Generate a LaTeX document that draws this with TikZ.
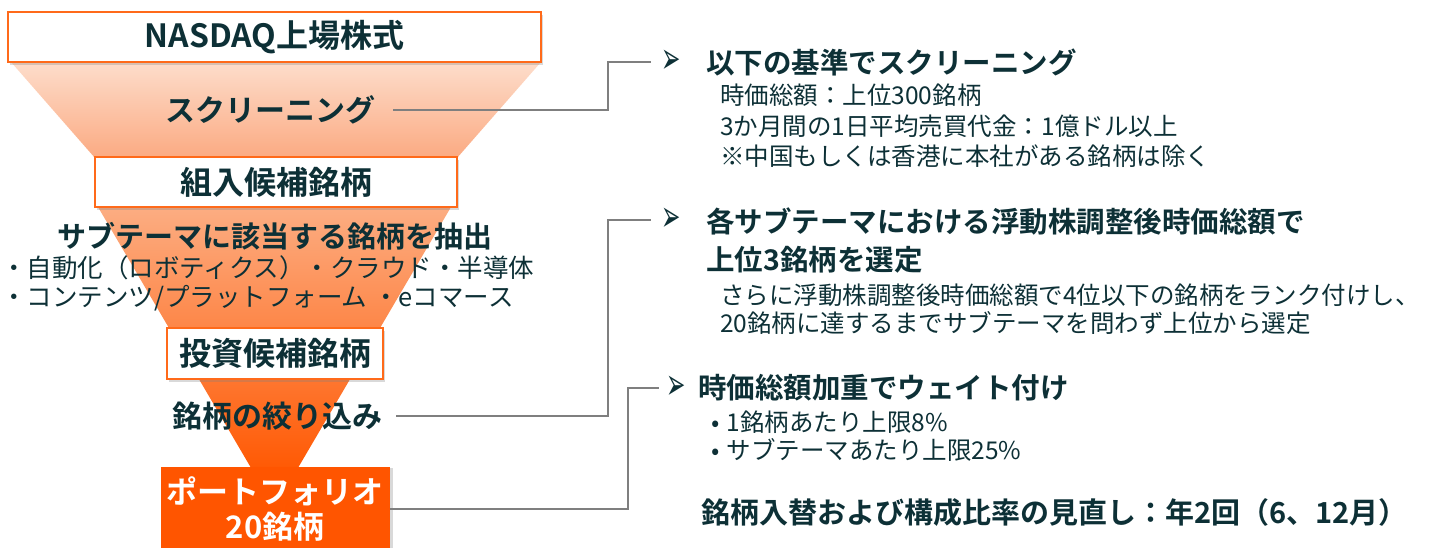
\documentclass[tikz,border=0pt]{standalone}
\usepackage{fontspec}
\setmainfont{Noto Sans CJK JP}[BoldFont=Noto Sans CJK JP Bold]
\newfontfamily\dejavu{DejaVu Sans}
\usetikzlibrary{shadows}
\definecolor{ink}{HTML}{0D3036}
\definecolor{edge}{HTML}{FF6A1A}
\definecolor{deep}{HTML}{FF5500}
\definecolor{wire}{HTML}{7F7F7F}
\definecolor{peachtop}{HTML}{FDDDCB}
\definecolor{peachbot}{HTML}{FBAA82}
\definecolor{ambertop}{HTML}{FCAD82}
\definecolor{amberbot}{HTML}{FF5A05}
\newcommand\boxfont{\fontsize{32}{36}\selectfont\bfseries}
\newcommand\stagefont{\fontsize{30}{35}\selectfont\bfseries}
\newcommand\titlefont{\fontsize{28.5}{34}\selectfont\bfseries}
\newcommand\notefont{\fontsize{24.5}{30}\selectfont}
\newcommand\pointer{\scalebox{1.05}[2]{➢}}

\begin{document}
\begin{tikzpicture}[x=1pt, y=-1pt,
		whitebox/.style={draw=edge, line width=1.5pt, fill=white, inner sep=0pt, text=ink, font=\boxfont,
			drop shadow={shadow xshift=2pt, shadow yshift=-2.5pt, opacity=0.3}},
		pfbox/.style={fill=deep, inner sep=0pt, text=white, font=\fontsize{31}{35}\selectfont\bfseries, align=center,
			drop shadow={shadow xshift=3pt, shadow yshift=-1pt, opacity=0.3}},
		stage/.style={text=ink, inner sep=0pt, font=\stagefont},
		plain/.style={anchor=west, text=ink, inner sep=0pt, font=\fontsize{25.5}{30}\selectfont},
		heading/.style={anchor=west, text=ink, inner sep=0pt, font=\titlefont},
		note/.style={anchor=west, text=ink, inner sep=0pt, font=\notefont},
		arrowhd/.style={text=ink, inner sep=0pt, font=\dejavu\fontsize{22}{24}\selectfont},
		joint/.style={draw=wire, line width=1.3pt}]
			%%%%% START %%%%%
			
			\useasboundingbox (0, 0) rectangle (1431, 547);
			
			% funnel
			\shade[top color=peachtop, bottom color=peachbot] (11, 62) -- (541, 62) -- (457, 158) -- (95, 158) -- cycle;
			\shade[top color=ambertop, bottom color=amberbot] (98, 207) -- (451, 207) -- (298.5, 467) -- (250.5, 467) -- cycle;
			
			% boxes
			\node[whitebox, minimum width=533pt, minimum height=50pt] (nasdaq) at (274.5, 37) {NASDAQ上場株式};
			\node[whitebox, minimum width=362pt, minimum height=50pt] (kumi) at (276, 182) {組入候補銘柄};
			\node[whitebox, minimum width=216pt, minimum height=51pt] (toshi) at (275, 353.5) {投資候補銘柄};
			\node[pfbox, minimum width=229pt, minimum height=84pt] (pf) at (275, 509) {ポートフォリオ\\20銘柄};
			
			% stages
			\node[stage] (scr) at (270, 110) {スクリーニング};
			\node[stage, font=\fontsize{29}{34}\selectfont\bfseries] (sub) at (274.5, 236) {サブテーマに該当する銘柄を抽出};
			\node[plain] (sub1) at (1, 268) {・自動化（ロボティクス）・クラウド・半導体};
			\node[plain] (sub2) at (1, 298) {・コンテンツ/プラットフォーム ・eコマース};
			\node[stage] (nar) at (277, 416) {銘柄の絞り込み};
			
			% right column
			\node[arrowhd] (a1) at (671, 62) {\pointer};
			\node[heading] (t1) at (706, 62) {以下の基準でスクリーニング};
			\node[note] (t1a) at (720, 95) {時価総額：上位300銘柄};
			\node[note] (t1b) at (720, 126) {3か月間の1日平均売買代金：1億ドル以上};
			\node[note] (t1c) at (720, 156) {※中国もしくは香港に本社がある銘柄は除く};
			
			\node[arrowhd] (a2) at (671, 220) {\pointer};
			\node[heading] (t2) at (706, 222) {各サブテーマにおける浮動株調整後時価総額で};
			\node[heading] (t2b) at (706, 260) {上位3銘柄を選定};
			\node[note] (t2c) at (720, 295) {さらに浮動株調整後時価総額で4位以下の銘柄をランク付けし、};
			\node[note] (t2d) at (720, 323) {20銘柄に達するまでサブテーマを問わず上位から選定};
			
			\node[arrowhd] (a3) at (676, 388) {\pointer};
			\node[heading] (t3) at (698, 388) {時価総額加重でウェイト付け};
			\node[note] (t3a) at (711, 422) {•\hspace{7pt}1銘柄あたり上限8\%};
			\node[note] (t3b) at (711, 450) {•\hspace{7pt}サブテーマあたり上限25\%};
			\node[heading, font=\fontsize{29}{34}\selectfont\bfseries] (t4) at (701, 512) {銘柄入替および構成比率の見直し：年2回（6、12月）};
			
			% connectors
			\coordinate (k1) at (608, 0);
			\coordinate (k2) at (628, 0);
			\draw[joint, shorten <=18pt, shorten >=10pt] (scr.east) -| (k1 |- a1) -- (a1.west);
			\draw[joint, shorten <=14pt, shorten >=10pt] (nar.east) -| (k1 |- a2) -- (a2.west);
			\draw[joint, shorten >=7pt] (pf.east) -| (k2 |- a3) -- (a3.west);
			
			%%%%% END %%%%%
\end{tikzpicture}
\end{document}
